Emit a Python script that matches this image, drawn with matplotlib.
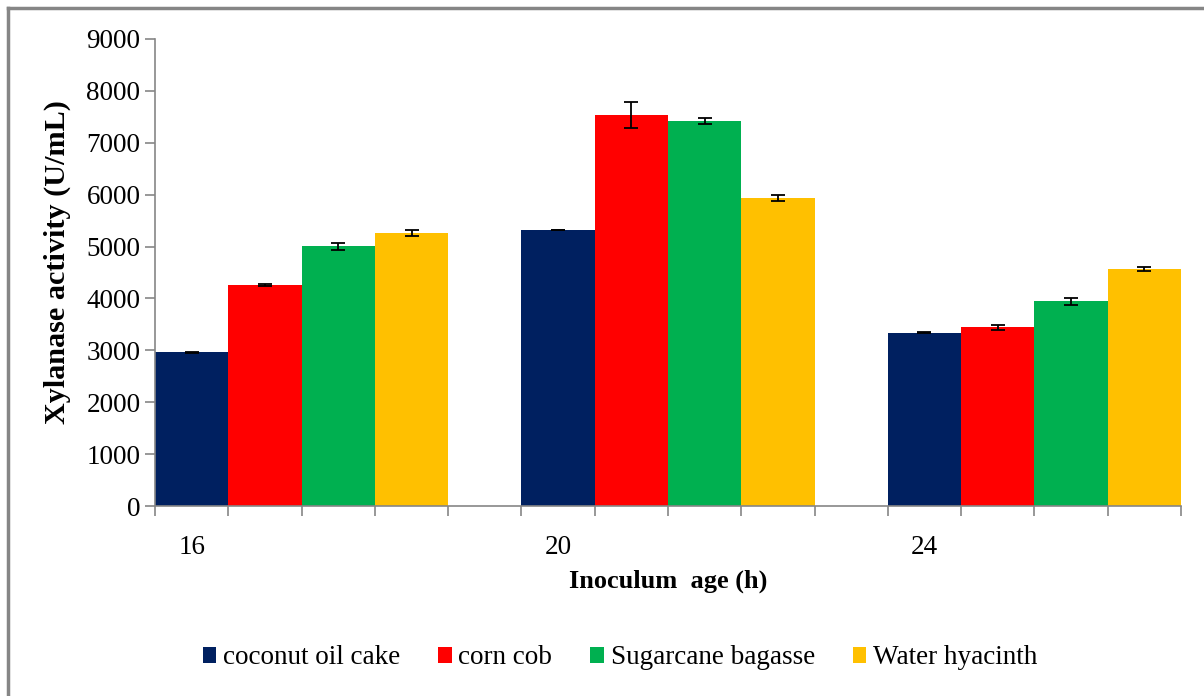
import matplotlib
matplotlib.use("Agg")
import matplotlib.pyplot as plt
import numpy as np
from matplotlib.lines import Line2D
from matplotlib.patches import Patch

plt.rcParams['font.family'] = ['Liberation Serif', 'DejaVu Serif']

ages = ["16", "20", "24"]
series = ["coconut oil cake", "corn cob", "Sugarcane bagasse", "Water hyacinth"]
colors = ["#002060", "#FF0000", "#00B050", "#FFC000"]

coconut = [2962, 5320, 3340]
corncob = [4265, 7530, 3443]
sugarcane = [5010, 7420, 3944]
hyacinth = [5268, 5936, 4561]

coconut_err = [8, 8, 8]
corncob_err = [20, 254, 51]
sugarcane_err = [67, 58, 74]
hyacinth_err = [58, 55, 38]

values = [coconut, corncob, sugarcane, hyacinth]
errors = [coconut_err, corncob_err, sugarcane_err, hyacinth_err]

fig = plt.figure(figsize=(12.04, 6.96), dpi=100)
ax = fig.add_axes([155/1204, 1 - 506/696, (1181-155)/1204, (506-39)/696])

n_series = len(series)
slot = n_series + 1
for i, (vals, errs) in enumerate(zip(values, errors)):
    xs = np.arange(len(ages)) * slot + i
    ax.bar(xs, vals, width=1.0, color=colors[i], edgecolor='none', label=series[i], zorder=2)
    ax.errorbar(xs, vals, yerr=errs, fmt='none', ecolor='black', elinewidth=1.3,
                capsize=5, capthick=1.3, zorder=3)

total = len(ages) * slot - 1
ax.set_xlim(-0.5, total - 0.5)
ax.set_ylim(0, 9000)
ax.set_yticks(np.arange(0, 9001, 1000))
ax.tick_params(axis='y', labelsize=19.5, length=7, color='#868686', width=1.2, pad=3.5, direction='out')

ax.set_xticks(np.arange(-0.5, total, 1.0))
ax.set_xticklabels([])
ax.tick_params(axis='x', which='major', length=7, color='#868686', width=1.2)
ax.set_xticks(np.arange(len(ages)) * slot, minor=True)
ax.set_xticklabels(ages, minor=True)
ax.tick_params(axis='x', which='minor', length=0, labelsize=19.5, pad=21)

for s in ['top', 'right']:
    ax.spines[s].set_visible(False)
for s in ['left', 'bottom']:
    ax.spines[s].set_color('#868686')
    ax.spines[s].set_linewidth(1.2)

ax.set_ylabel("Xylanase activity (U/mL)", fontsize=21.8, fontweight='bold')
ax.yaxis.set_label_coords(-0.082, 0.522)
ax.set_xlabel("Inoculum  age (h)", fontsize=19, fontweight='bold', labelpad=7)

handles = [Patch(facecolor=c, edgecolor='none') for c in colors]
fig.legend(handles, series, loc='center', bbox_to_anchor=(620/1204, 1 - 658/696), ncol=4,
           frameon=False, fontsize=19.5, handlelength=0.5, handleheight=0.5,
           handletextpad=0.25, columnspacing=1.4)

# outer border (top and left visible)
fig.add_artist(Line2D([8/1204, 1.0], [1 - 8/696, 1 - 8/696], color='#868686', lw=2.5, transform=fig.transFigure))
fig.add_artist(Line2D([8/1204, 8/1204], [0, 1 - 8/696], color='#868686', lw=2.5, transform=fig.transFigure))

fig.savefig("out.png", dpi=100)
